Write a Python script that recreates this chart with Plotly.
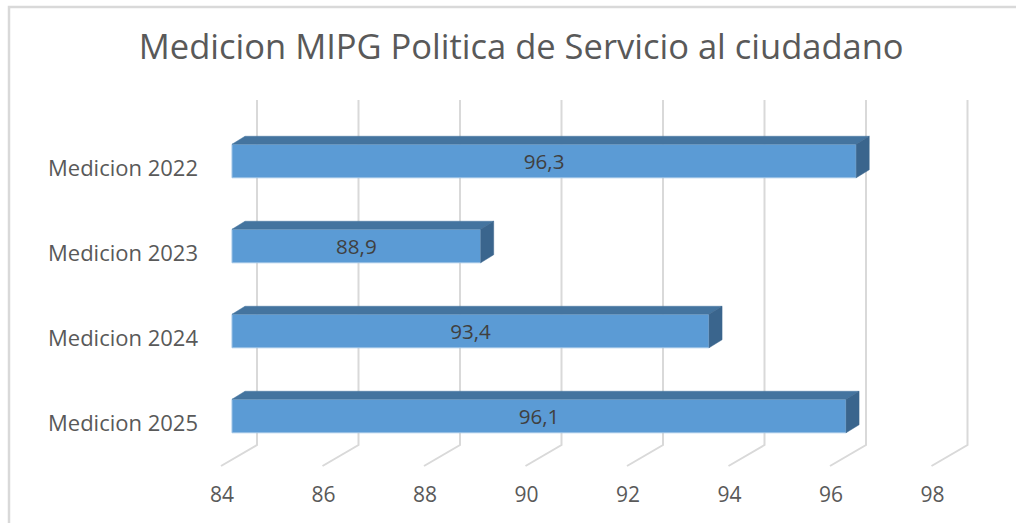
import plotly.graph_objects as go

# ---- data ----
categories = ["Medicion 2022", "Medicion 2023", "Medicion 2024", "Medicion 2025"]
values = [96.3, 88.9, 93.4, 96.1]
x_ticks = [84, 86, 88, 90, 92, 94, 96, 98]
title_text = "Medicion MIPG Politica de Servicio al ciudadano"

# ---- layout geometry ----
W, H = 1016, 523
ML, MR, MT, MB = 205, 16, 90, 50
PW, PH = W - ML - MR, H - MT - MB
PX_PER_UNIT = 50.75          # pixels per value unit
PX_PER_CAT = 85.0            # pixels per category step
BASE = 84
front0_px = 232              # pixel of BASE on bar front face
x0 = BASE - (front0_px - ML) / PX_PER_UNIT
x1 = x0 + PW / PX_PER_UNIT
# category index k: bottom (2025)=0 ... top (2022)=3 ; center of k=0 at pixel 416
y_bottom_px = H - MB
k0 = (416 - y_bottom_px) / PX_PER_CAT
k1 = k0 + PH / PX_PER_CAT

n = len(categories)
ypos = [n - 1 - i for i in range(n)]
bar_w = 33.5 / PX_PER_CAT
h = bar_w / 2
ddx = 13 / PX_PER_UNIT       # bar depth offset (x)
ddy = 8 / PX_PER_CAT         # bar depth offset (y)
wall_dx = 25 / PX_PER_UNIT
floor_dx = -11 / PX_PER_UNIT
grid_top = (416 - 100) / PX_PER_CAT
grid_wall_bottom = (416 - 445) / PX_PER_CAT
grid_floor = (416 - 466) / PX_PER_CAT

GRID = "#d9d9d9"
FRONT = "#5b9bd5"
TOP = "#44749f"
SIDE = "#3a658d"
TXT = "#595959"

fig = go.Figure()

# gridlines (back wall + floor), drawn below the traces
shapes = []
for t in x_ticks:
    xw, xf = t + wall_dx, t + floor_dx
    shapes.append(dict(type="path", xref="x", yref="y", layer="below",
                       path=f"M {xw},{grid_top} L {xw},{grid_wall_bottom} L {xf},{grid_floor}",
                       line=dict(color=GRID, width=2)))

# bar top faces and side faces
for v, k in zip(values, ypos):
    fig.add_trace(go.Scatter(
        x=[BASE, v, v + ddx, BASE + ddx, BASE],
        y=[k + h, k + h, k + h + ddy, k + h + ddy, k + h],
        fill="toself", fillcolor=TOP, mode="lines", line=dict(color=TOP, width=0.5),
        hoverinfo="skip", showlegend=False))
    fig.add_trace(go.Scatter(
        x=[v, v + ddx, v + ddx, v, v],
        y=[k - h, k - h + ddy, k + h + ddy, k + h, k - h],
        fill="toself", fillcolor=SIDE, mode="lines", line=dict(color=SIDE, width=0.5),
        hoverinfo="skip", showlegend=False))

# bar front faces
fig.add_trace(go.Bar(
    orientation="h", y=ypos, x=[v - BASE for v in values], base=BASE, width=bar_w,
    marker=dict(color=FRONT, line=dict(color="#9dc3e6", width=1)),
    text=[f"{v:.1f}".replace(".", ",") for v in values],
    textposition="inside", insidetextanchor="middle", textangle=0,
    textfont=dict(family="Open Sans", size=21, color="#404040"),
    hoverinfo="skip", showlegend=False))

# invisible trace for tick axis
fig.add_trace(go.Scatter(x=[x_ticks[0]], y=[0], xaxis="x2", mode="markers",
                         marker=dict(opacity=0), hoverinfo="skip", showlegend=False))

tick_shift = 10 / PX_PER_UNIT

shapes.append(dict(type="rect", xref="paper", yref="paper",
                   x0=(9 - ML) / PW, x1=(1018 - ML) / PW,
                   y0=(y_bottom_px - 526) / PH, y1=(y_bottom_px - 7) / PH,
                   line=dict(color=GRID, width=2.5), layer="below"))

fig.update_layout(
    width=W, height=H,
    margin=dict(l=ML, r=MR, t=MT, b=MB),
    paper_bgcolor="white", plot_bgcolor="white",
    title=dict(text=title_text, x=0.513, xanchor="center", y=0.91, yanchor="middle",
               font=dict(family="Open Sans", size=34.5, color=TXT)),
    xaxis=dict(range=[x0, x1], showgrid=False, zeroline=False, showticklabels=False,
               showline=False, fixedrange=True),
    xaxis2=dict(range=[x0 + tick_shift, x1 + tick_shift], overlaying="x", anchor="y",
                side="bottom", tickvals=x_ticks, ticktext=[str(t) for t in x_ticks],
                showgrid=False, zeroline=False, showline=False, ticks="",
                ticklabelstandoff=7,
                tickfont=dict(family="Open Sans", size=21, color=TXT)),
    yaxis=dict(range=[k0, k1], tickvals=[k - 0.09 for k in ypos], ticktext=categories,
               showgrid=False, zeroline=False, showline=False, ticks="",
               ticklabelstandoff=6,
               tickfont=dict(family="Open Sans", size=22, color=TXT)),
    shapes=shapes,
)

fig.write_html("out.html", config={"displayModeBar": False},
               post_script="document.body.style.margin='0';")
